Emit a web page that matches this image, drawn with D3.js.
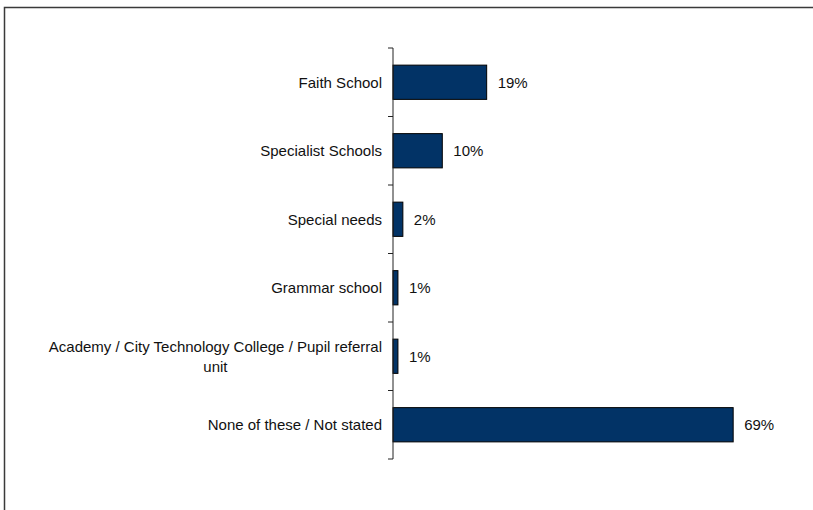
<!DOCTYPE html>
<html>
<head>
<meta charset="utf-8">
<script src="https://cdn.jsdelivr.net/npm/d3@7"></script>
<style>
  html, body { margin: 0; padding: 0; background: #fff; overflow: hidden; }
  svg { display: block; }
  text { font-family: "Liberation Sans", Arial, sans-serif; fill: #111; }
</style>
</head>
<body>
<svg id="chart" width="813" height="510"></svg>
<script>
// School type shares (percent of respondents)
const categories = [
  "Faith School",
  "Specialist Schools",
  "Special needs",
  "Grammar school",
  "Academy / City Technology College / Pupil referral unit",
  "None of these / Not stated"
];
const values = [19, 10, 2, 1, 1, 69];
const valueLabels = ["19%", "10%", "2%", "1%", "1%", "69%"];

const svg = d3.select("#chart");
const W = 813, H = 510;

// Outer frame: top and left edges (the rest runs off the canvas)
svg.append("path")
  .attr("d", `M4.5,${H} L4.5,7.5 L${W},7.5`)
  .attr("fill", "none")
  .attr("stroke", "#3a3a3a")
  .attr("stroke-width", 1.5);

const axisX = 393;
const x = d3.scaleLinear().domain([0, 80]).range([axisX, axisX + 394.4]);
const y = d3.scaleBand().domain(categories).range([48, 459])
  .paddingInner(0.5).paddingOuter(0.25);

// Bars
svg.append("g").selectAll("rect")
  .data(categories)
  .join("rect")
  .attr("x", x(0))
  .attr("y", d => y(d))
  .attr("width", (d, i) => x(values[i]) - x(0))
  .attr("height", y.bandwidth())
  .attr("fill", "#023366")
  .attr("stroke", "#000")
  .attr("stroke-width", 1);

// Category axis: vertical line with ticks at category boundaries
const step = y.step();
const boundaries = d3.range(categories.length + 1).map(i => y.range()[0] + i * step);
const ax = svg.append("g");
ax.append("line")
  .attr("x1", axisX).attr("x2", axisX)
  .attr("y1", boundaries[0]).attr("y2", boundaries[boundaries.length - 1])
  .attr("stroke", "#222").attr("stroke-width", 1);
ax.selectAll("line.tick")
  .data(boundaries)
  .join("line")
  .attr("class", "tick")
  .attr("x1", axisX - 5).attr("x2", axisX)
  .attr("y1", d => d).attr("y2", d => d)
  .attr("stroke", "#222").attr("stroke-width", 1);

// Category labels, wrapped to fit the label column
const labelRight = axisX - 11;
const maxLabelWidth = 345;
const lineHeight = 19.5;
const fontSize = 15;
const labels = svg.append("g")
  .attr("font-size", fontSize)
  .attr("text-anchor", "end");

categories.forEach(cat => {
  const t = labels.append("text").attr("x", labelRight);
  const words = cat.split(" ");
  const lines = [];
  let cur = [];
  const probe = labels.append("text").attr("visibility", "hidden");
  words.forEach(w => {
    const trial = cur.concat([w]).join(" ");
    probe.text(trial);
    if (probe.node().getComputedTextLength() > maxLabelWidth && cur.length) {
      lines.push(cur.join(" "));
      cur = [w];
    } else {
      cur.push(w);
    }
  });
  lines.push(cur.join(" "));
  probe.remove();
  const cy = y(cat) + y.bandwidth() / 2;
  const firstBaseline = cy - (lines.length - 1) * lineHeight / 2 + fontSize * 0.38;
  lines.forEach((ln, k) => {
    t.append("tspan")
      .attr("x", labelRight)
      .attr("y", firstBaseline + k * lineHeight)
      .attr("text-anchor", k === lines.length - 1 && lines.length > 1 ? "middle" : "end")
      .text(ln);
  });
});

// Centre the continuation line of wrapped labels under the first line
labels.selectAll("text").each(function() {
  const spans = d3.select(this).selectAll("tspan");
  if (spans.size() > 1) {
    const first = spans.nodes()[0];
    const w = first.getComputedTextLength();
    spans.filter((d, i) => i > 0).attr("x", labelRight - w / 2);
  }
});

// Value labels beside each bar
svg.append("g")
  .attr("font-size", fontSize)
  .selectAll("text")
  .data(categories)
  .join("text")
  .attr("x", (d, i) => x(values[i]) + 11)
  .attr("y", d => y(d) + y.bandwidth() / 2 + fontSize * 0.38)
  .text((d, i) => valueLabels[i]);
</script>
</body>
</html>
